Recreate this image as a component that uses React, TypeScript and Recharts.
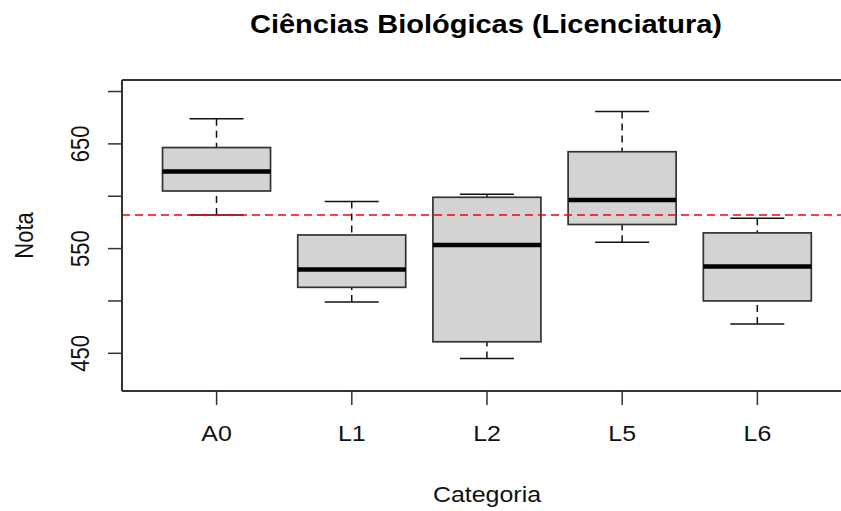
import React from "react";
import { ComposedChart, Bar, XAxis, YAxis, ReferenceLine } from "recharts";

// Five-number summaries of the scores per category
const categories = ["A0", "L1", "L2", "L5", "L6"];
const whiskerLow = [582, 499, 445, 556, 478];
const lowerQuartile = [605, 513, 461, 573, 500];
const medians = [623.5, 530, 553.5, 596.5, 533];
const upperQuartile = [646.5, 563, 599, 642.5, 565];
const whiskerHigh = [674, 595, 602, 681, 579];

// Overall reference score (dashed red line)
const referenceScore = 582;

// Axis setup
const yDomain = [414, 711];
const yTicks = [450, 500, 550, 600, 650, 700];
const yTickLabels = [450, 550, 650];

const data = categories.map((cat, i) => ({
  cat,
  range: [whiskerLow[i], whiskerHigh[i]],
  lo: whiskerLow[i],
  q1: lowerQuartile[i],
  med: medians[i],
  q3: upperQuartile[i],
  hi: whiskerHigh[i],
}));

const FONT = "'Liberation Sans', Arial, sans-serif";
const STRETCH = 1.16;
const INK = "#333";

function BoxShape(props: any) {
  const { x, y, width, height, payload } = props;
  if (!payload) return null;
  const top = Math.min(y, y + height);
  const h = Math.abs(height);
  const { lo, q1, med, q3, hi } = payload;
  const py = (v: number) => top + ((hi - v) / (hi - lo)) * h;
  const cx = x + width / 2;
  const capHalf = width / 4;
  return (
    <g>
      <line x1={cx} x2={cx} y1={py(hi)} y2={py(q3)} stroke="#111" strokeWidth={1.5} strokeDasharray="7 5" />
      <line x1={cx} x2={cx} y1={py(lo)} y2={py(q1)} stroke="#111" strokeWidth={1.5} strokeDasharray="7 5" />
      <line x1={cx - capHalf} x2={cx + capHalf} y1={py(hi)} y2={py(hi)} stroke="#111" strokeWidth={1.5} />
      <line x1={cx - capHalf} x2={cx + capHalf} y1={py(lo)} y2={py(lo)} stroke="#111" strokeWidth={1.5} />
      <rect x={x} y={py(q3)} width={width} height={py(q1) - py(q3)} fill="#D3D3D3" stroke={INK} strokeWidth={1.7} />
      <line x1={x} x2={x + width} y1={py(med)} y2={py(med)} stroke="#000" strokeWidth={4.5} />
    </g>
  );
}

function XTick(props: any) {
  const { x, y, payload } = props;
  return (
    <text
      transform={`translate(${x},${y + 33.5}) scale(${STRETCH},1)`}
      textAnchor="middle"
      fontFamily={FONT}
      fontSize={21.5}
      fill="#111"
    >
      {payload.value}
    </text>
  );
}

function YTick(props: any) {
  const { x, y, payload } = props;
  if (!yTickLabels.includes(payload.value)) return null;
  return (
    <text
      transform={`translate(${x - 16.7},${y}) scale(${STRETCH},1) rotate(-90)`}
      textAnchor="middle"
      fontFamily={FONT}
      fontSize={22}
      fill="#111"
    >
      {payload.value}
    </text>
  );
}

export default function App() {
  return (
    <div
      style={{
        position: "relative",
        width: 841,
        height: 511,
        overflow: "hidden",
        background: "#fff",
      }}
    >
      <style>{`html, body { margin: 0; padding: 0; overflow: hidden; }`}</style>
      <ComposedChart
        width={900}
        height={511}
        data={data}
        margin={{ top: 79, left: 62, right: 48, bottom: 80 }}
        barCategoryGap="10%"
      >
        <XAxis
          dataKey="cat"
          type="category"
          height={40}
          padding={{ left: 27, right: 27 }}
          tickSize={14}
          tickMargin={2}
          tick={<XTick />}
          tickLine={{ stroke: INK, strokeWidth: 1.5 }}
          axisLine={{ stroke: INK, strokeWidth: 2 }}
          interval={0}
        />
        <XAxis
          xAxisId="frameTop"
          dataKey="cat"
          orientation="top"
          height={1}
          tick={false}
          tickLine={false}
          axisLine={{ stroke: INK, strokeWidth: 2 }}
        />
        <YAxis
          type="number"
          domain={yDomain}
          ticks={yTicks}
          interval={0}
          allowDataOverflow
          width={60}
          tickSize={14}
          tickMargin={2}
          tick={<YTick />}
          tickLine={{ stroke: INK, strokeWidth: 1.5 }}
          axisLine={{ stroke: INK, strokeWidth: 2 }}
        />
        <Bar dataKey="range" shape={<BoxShape />} isAnimationActive={false} />
        <ReferenceLine
          y={referenceScore}
          stroke="#FF0000"
          strokeWidth={1.5}
          strokeDasharray="8 5"
          ifOverflow="extendDomain"
        />
      </ComposedChart>
      <svg
        width={841}
        height={511}
        style={{ position: "absolute", left: 0, top: 0, pointerEvents: "none" }}
      >
        <text
          transform={`translate(486,32.5) scale(${STRETCH},1)`}
          textAnchor="middle"
          fontFamily={FONT}
          fontWeight="bold"
          fontSize={25}
          fill="#000"
        >
          Ciências Biológicas (Licenciatura)
        </text>
        <text
          transform={`translate(487,501.5) scale(${STRETCH},1)`}
          textAnchor="middle"
          fontFamily={FONT}
          fontSize={21.5}
          fill="#111"
        >
          Categoria
        </text>
        <text
          transform={`translate(32.7,235.5) scale(${STRETCH},1) rotate(-90)`}
          textAnchor="middle"
          fontFamily={FONT}
          fontSize={22}
          fill="#111"
        >
          Nota
        </text>
      </svg>
    </div>
  );
}
